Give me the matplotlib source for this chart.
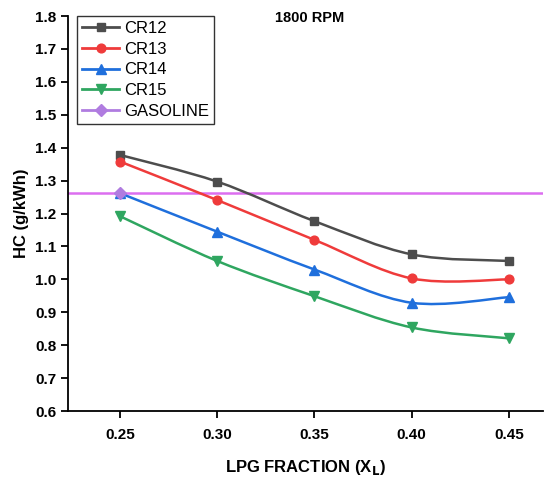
#!/usr/bin/env python3
import numpy as np
import matplotlib
matplotlib.use("Agg")
import matplotlib.pyplot as plt
from matplotlib.path import Path
from matplotlib.patches import PathPatch
from matplotlib.lines import Line2D

plt.rcParams["font.family"] = ["Liberation Sans", "DejaVu Sans"]
plt.rcParams["font.weight"] = "bold"

lpg = [0.25, 0.30, 0.35, 0.40, 0.45]
cr12 = [1.378, 1.297, 1.177, 1.076, 1.056]
cr13 = [1.358, 1.241, 1.120, 1.003, 1.000]
cr14 = [1.262, 1.145, 1.030, 0.929, 0.946]
cr15 = [1.192, 1.056, 0.949, 0.854, 0.821]
gasoline = 1.262

series = [
    ("CR12", cr12, "#4d4d4d", "s", 5.3),
    ("CR13", cr13, "#ef3b3b", "o", 6.3),
    ("CR14", cr14, "#1f6fdc", "^", 6.8),
    ("CR15", cr15, "#2fa660", "v", 6.8),
]


def smooth_path(x, y):
    # catmull-rom through the points, as cubic bezier segments
    x = np.asarray(x, float)
    y = np.asarray(y, float)
    pts = np.column_stack([x, y])
    verts = [pts[0]]
    codes = [Path.MOVETO]
    n = len(pts)
    for i in range(n - 1):
        p0 = pts[i - 1] if i > 0 else pts[i]
        p1 = pts[i]
        p2 = pts[i + 1]
        p3 = pts[i + 2] if i + 2 < n else pts[i + 1]
        c1 = p1 + (p2 - p0) / 6
        c2 = p2 - (p3 - p1) / 6
        verts += [c1, c2, p2]
        codes += [Path.CURVE4] * 3
    return Path(verts, codes)


fig = plt.figure(figsize=(5.44, 4.78), dpi=100)
ax = fig.add_axes([0.125, 0.140, 0.873, 0.8265])

handles = []
for name, vals, color, mk, ms in series:
    ax.add_patch(PathPatch(smooth_path(lpg, vals), facecolor="none",
                           edgecolor=color, lw=1.8, zorder=2))
    ax.plot(lpg, vals, ls="none", marker=mk, ms=ms, color=color, zorder=3)
    handles.append(Line2D([], [], color=color, lw=2, marker=mk, ms=ms))

ax.axhline(gasoline, color="#dc6ef0", lw=1.8, zorder=1)
ax.plot([lpg[0]], [gasoline], ls="none", marker="D", ms=6,
        color="#b07ce0", zorder=4)
handles.append(Line2D([], [], color="#b07ce0", lw=2, marker="D", ms=6))

ax.set_xlim(0.2233, 0.4675)
ax.set_ylim(0.6, 1.8)
ax.set_xticks(lpg)
ax.set_xticklabels([f"{v:.2f}" for v in lpg])
ax.set_yticks(np.arange(0.6, 1.81, 0.1))
ax.set_yticklabels([f"{v:.1f}" for v in np.arange(0.6, 1.81, 0.1)])
ax.tick_params(labelsize=11, width=1.3, length=5, direction="out")
ax.tick_params(axis="x", pad=7)
for lbl in ax.get_xticklabels() + ax.get_yticklabels():
    lbl.set_fontweight("bold")
for s in ["top", "right"]:
    ax.spines[s].set_visible(False)
for s in ["left", "bottom"]:
    ax.spines[s].set_linewidth(1.3)

ax.set_xlabel("LPG FRACTION (X$_\\mathbf{L}$)", fontsize=12, fontweight="bold",
              labelpad=12)
ax.set_ylabel("HC (g/kWh)", fontsize=12, fontweight="bold", labelpad=4)

fig.text(0.57, 0.962, "1800 RPM", fontsize=10.5, fontweight="bold",
         ha="center", va="center")

leg = ax.legend(handles, ["CR12", "CR13", "CR14", "CR15", "GASOLINE"],
                loc="upper left", bbox_to_anchor=(0.02, 1.0), fontsize=12,
                frameon=True, fancybox=False, edgecolor="black",
                handlelength=2.2, handletextpad=0.3, borderpad=0.3,
                labelspacing=0.34, borderaxespad=0.0)
leg.get_frame().set_linewidth(1.0)
for t in leg.get_texts():
    t.set_fontweight("normal")

fig.savefig("out.png", dpi=100)
